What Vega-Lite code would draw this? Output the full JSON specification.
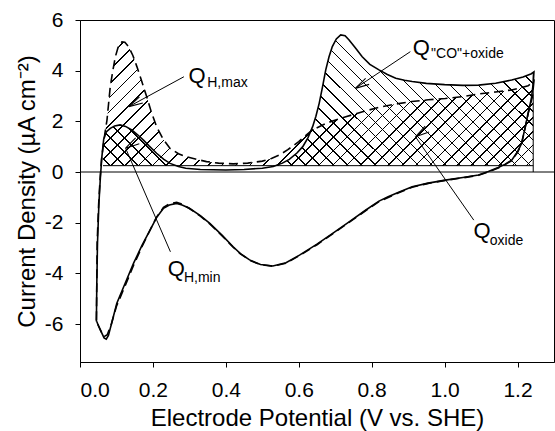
{
  "$schema": "https://vega.github.io/schema/vega-lite/v6.json",
  "width": 474,
  "height": 342,
  "autosize": "none",
  "padding": {"left": 80, "top": 20, "right": 1, "bottom": 69},
  "background": "white",
  "config": {
    "view": {"stroke": "black", "strokeWidth": 1},
    "font": "Liberation Sans",
    "axis": {"grid": false, "domainColor": "black", "tickColor": "black", "labelColor": "black", "titleColor": "black", "labelFont": "Liberation Sans", "titleFont": "Liberation Sans", "titleFontWeight": "normal", "tickSize": 5, "domainWidth": 1, "tickWidth": 1}
  },
  "datasets": {
    "one": [{"u": 1}],
    "curves": [
      {"c":"S","i":1,"x":0.045,"y":-5.9},{"c":"S","i":2,"x":0.046,"y":-4.5},{"c":"S","i":3,"x":0.048,"y":-2.8},{"c":"S","i":4,"x":0.052,"y":-1.2},{"c":"S","i":5,"x":0.056,"y":-0.2},{"c":"S","i":6,"x":0.06,"y":0.6},{"c":"S","i":7,"x":0.065,"y":1.3},{"c":"S","i":8,"x":0.072,"y":1.58},{"c":"S","i":9,"x":0.083,"y":1.72},{"c":"S","i":10,"x":0.095,"y":1.82},{"c":"S","i":11,"x":0.11,"y":1.86},{"c":"S","i":12,"x":0.125,"y":1.8},{"c":"S","i":13,"x":0.142,"y":1.66},{"c":"S","i":14,"x":0.158,"y":1.47},{"c":"S","i":15,"x":0.174,"y":1.26},{"c":"S","i":16,"x":0.19,"y":1.02},{"c":"S","i":17,"x":0.21,"y":0.74},{"c":"S","i":18,"x":0.23,"y":0.5},{"c":"S","i":19,"x":0.247,"y":0.34},{"c":"S","i":20,"x":0.27,"y":0.22},{"c":"S","i":21,"x":0.29,"y":0.15},{"c":"S","i":22,"x":0.33,"y":0.1},{"c":"S","i":23,"x":0.4,"y":0.08},{"c":"S","i":24,"x":0.45,"y":0.1},{"c":"S","i":25,"x":0.5,"y":0.15},{"c":"S","i":26,"x":0.53,"y":0.22},{"c":"S","i":27,"x":0.555,"y":0.35},{"c":"S","i":28,"x":0.574,"y":0.5},{"c":"S","i":29,"x":0.595,"y":0.75},{"c":"S","i":30,"x":0.611,"y":1.0},{"c":"S","i":31,"x":0.625,"y":1.35},{"c":"S","i":32,"x":0.638,"y":1.79},{"c":"S","i":33,"x":0.647,"y":2.2},{"c":"S","i":34,"x":0.656,"y":2.71},{"c":"S","i":35,"x":0.665,"y":3.35},{"c":"S","i":36,"x":0.674,"y":4.03},{"c":"S","i":37,"x":0.683,"y":4.55},{"c":"S","i":38,"x":0.692,"y":4.95},{"c":"S","i":39,"x":0.703,"y":5.25},{"c":"S","i":40,"x":0.715,"y":5.41},{"c":"S","i":41,"x":0.727,"y":5.38},{"c":"S","i":42,"x":0.738,"y":5.21},{"c":"S","i":43,"x":0.755,"y":4.9},{"c":"S","i":44,"x":0.774,"y":4.55},{"c":"S","i":45,"x":0.795,"y":4.25},{"c":"S","i":46,"x":0.82,"y":4.03},{"c":"S","i":47,"x":0.843,"y":3.85},{"c":"S","i":48,"x":0.866,"y":3.7},{"c":"S","i":49,"x":0.89,"y":3.62},{"c":"S","i":50,"x":0.911,"y":3.57},{"c":"S","i":51,"x":0.95,"y":3.5},{"c":"S","i":52,"x":1.0,"y":3.45},{"c":"S","i":53,"x":1.05,"y":3.42},{"c":"S","i":54,"x":1.093,"y":3.43},{"c":"S","i":55,"x":1.14,"y":3.5},{"c":"S","i":56,"x":1.184,"y":3.63},{"c":"S","i":57,"x":1.215,"y":3.75},{"c":"S","i":58,"x":1.238,"y":3.88},{"c":"S","i":59,"x":1.245,"y":3.95},
      {"c":"S","i":60,"x":1.243,"y":3.5},{"c":"S","i":61,"x":1.238,"y":2.9},{"c":"S","i":62,"x":1.229,"y":2.32},{"c":"S","i":63,"x":1.22,"y":1.7},{"c":"S","i":64,"x":1.211,"y":1.13},{"c":"S","i":65,"x":1.2,"y":0.8},{"c":"S","i":66,"x":1.184,"y":0.47},{"c":"S","i":67,"x":1.165,"y":0.3},{"c":"S","i":68,"x":1.147,"y":0.18},{"c":"S","i":69,"x":1.12,"y":0.02},{"c":"S","i":70,"x":1.093,"y":-0.12},{"c":"S","i":71,"x":1.05,"y":-0.22},{"c":"S","i":72,"x":1.002,"y":-0.32},{"c":"S","i":73,"x":0.955,"y":-0.44},{"c":"S","i":74,"x":0.911,"y":-0.58},{"c":"S","i":75,"x":0.874,"y":-0.8},{"c":"S","i":76,"x":0.845,"y":-0.98},{"c":"S","i":77,"x":0.82,"y":-1.15},{"c":"S","i":78,"x":0.784,"y":-1.5},{"c":"S","i":79,"x":0.74,"y":-1.95},{"c":"S","i":80,"x":0.693,"y":-2.42},{"c":"S","i":81,"x":0.65,"y":-2.85},{"c":"S","i":82,"x":0.602,"y":-3.28},{"c":"S","i":83,"x":0.565,"y":-3.58},{"c":"S","i":84,"x":0.529,"y":-3.71},{"c":"S","i":85,"x":0.495,"y":-3.65},{"c":"S","i":86,"x":0.465,"y":-3.47},{"c":"S","i":87,"x":0.44,"y":-3.22},{"c":"S","i":88,"x":0.42,"y":-2.95},{"c":"S","i":89,"x":0.39,"y":-2.5},{"c":"S","i":90,"x":0.356,"y":-2.03},{"c":"S","i":91,"x":0.33,"y":-1.72},{"c":"S","i":92,"x":0.3,"y":-1.43},{"c":"S","i":93,"x":0.28,"y":-1.3},{"c":"S","i":94,"x":0.265,"y":-1.24},{"c":"S","i":95,"x":0.245,"y":-1.3},{"c":"S","i":96,"x":0.229,"y":-1.43},{"c":"S","i":97,"x":0.21,"y":-1.8},{"c":"S","i":98,"x":0.192,"y":-2.29},{"c":"S","i":99,"x":0.17,"y":-2.9},{"c":"S","i":100,"x":0.147,"y":-3.6},{"c":"S","i":101,"x":0.125,"y":-4.35},{"c":"S","i":102,"x":0.101,"y":-5.18},{"c":"S","i":103,"x":0.088,"y":-5.9},{"c":"S","i":104,"x":0.078,"y":-6.45},{"c":"S","i":105,"x":0.072,"y":-6.6},{"c":"S","i":106,"x":0.066,"y":-6.55},{"c":"S","i":107,"x":0.058,"y":-6.3},{"c":"S","i":108,"x":0.05,"y":-6.05},{"c":"S","i":109,"x":0.046,"y":-5.9},
      {"c":"D","i":1,"x":0.045,"y":-5.85},{"c":"D","i":2,"x":0.046,"y":-4.5},{"c":"D","i":3,"x":0.047,"y":-2.8},{"c":"D","i":4,"x":0.051,"y":-1.3},{"c":"D","i":5,"x":0.055,"y":-0.3},{"c":"D","i":6,"x":0.059,"y":0.5},{"c":"D","i":7,"x":0.063,"y":0.95},{"c":"D","i":8,"x":0.068,"y":1.5},{"c":"D","i":9,"x":0.074,"y":2.05},{"c":"D","i":10,"x":0.083,"y":3.37},{"c":"D","i":11,"x":0.09,"y":4.0},{"c":"D","i":12,"x":0.097,"y":4.55},{"c":"D","i":13,"x":0.105,"y":4.95},{"c":"D","i":14,"x":0.115,"y":5.14},{"c":"D","i":15,"x":0.123,"y":5.12},{"c":"D","i":16,"x":0.133,"y":4.95},{"c":"D","i":17,"x":0.145,"y":4.6},{"c":"D","i":18,"x":0.156,"y":4.16},{"c":"D","i":19,"x":0.17,"y":3.55},{"c":"D","i":20,"x":0.183,"y":2.97},{"c":"D","i":21,"x":0.196,"y":2.35},{"c":"D","i":22,"x":0.21,"y":1.79},{"c":"D","i":23,"x":0.228,"y":1.3},{"c":"D","i":24,"x":0.247,"y":0.93},{"c":"D","i":25,"x":0.27,"y":0.72},{"c":"D","i":26,"x":0.292,"y":0.6},{"c":"D","i":27,"x":0.32,"y":0.5},{"c":"D","i":28,"x":0.347,"y":0.41},{"c":"D","i":29,"x":0.38,"y":0.35},{"c":"D","i":30,"x":0.42,"y":0.32},{"c":"D","i":31,"x":0.46,"y":0.35},{"c":"D","i":32,"x":0.5,"y":0.43},{"c":"D","i":33,"x":0.525,"y":0.53},{"c":"D","i":34,"x":0.547,"y":0.67},{"c":"D","i":35,"x":0.57,"y":0.88},{"c":"D","i":36,"x":0.6,"y":1.2},{"c":"D","i":37,"x":0.637,"y":1.66},{"c":"D","i":38,"x":0.68,"y":1.95},{"c":"D","i":39,"x":0.729,"y":2.18},{"c":"D","i":40,"x":0.775,"y":2.38},{"c":"D","i":41,"x":0.82,"y":2.55},{"c":"D","i":42,"x":0.865,"y":2.68},{"c":"D","i":43,"x":0.91,"y":2.78},{"c":"D","i":44,"x":0.955,"y":2.85},{"c":"D","i":45,"x":1.002,"y":2.9},{"c":"D","i":46,"x":1.05,"y":2.98},{"c":"D","i":47,"x":1.093,"y":3.08},{"c":"D","i":48,"x":1.14,"y":3.16},{"c":"D","i":49,"x":1.184,"y":3.24},{"c":"D","i":50,"x":1.229,"y":3.4},{"c":"D","i":51,"x":1.245,"y":3.6},
      {"c":"D","i":52,"x":1.241,"y":3.0},{"c":"D","i":53,"x":1.229,"y":2.3},{"c":"D","i":54,"x":1.22,"y":1.68},{"c":"D","i":55,"x":1.211,"y":1.12},{"c":"D","i":56,"x":1.2,"y":0.78},{"c":"D","i":57,"x":1.184,"y":0.45},{"c":"D","i":58,"x":1.165,"y":0.28},{"c":"D","i":59,"x":1.147,"y":0.16},{"c":"D","i":60,"x":1.12,"y":0.0},{"c":"D","i":61,"x":1.093,"y":-0.13},{"c":"D","i":62,"x":1.05,"y":-0.23},{"c":"D","i":63,"x":1.002,"y":-0.33},{"c":"D","i":64,"x":0.955,"y":-0.45},{"c":"D","i":65,"x":0.911,"y":-0.6},{"c":"D","i":66,"x":0.874,"y":-0.82},{"c":"D","i":67,"x":0.82,"y":-1.17},{"c":"D","i":68,"x":0.784,"y":-1.52},{"c":"D","i":69,"x":0.74,"y":-1.97},{"c":"D","i":70,"x":0.693,"y":-2.44},{"c":"D","i":71,"x":0.65,"y":-2.87},{"c":"D","i":72,"x":0.602,"y":-3.3},{"c":"D","i":73,"x":0.565,"y":-3.6},{"c":"D","i":74,"x":0.529,"y":-3.72},{"c":"D","i":75,"x":0.495,"y":-3.66},{"c":"D","i":76,"x":0.465,"y":-3.48},{"c":"D","i":77,"x":0.44,"y":-3.23},{"c":"D","i":78,"x":0.42,"y":-2.97},{"c":"D","i":79,"x":0.39,"y":-2.52},{"c":"D","i":80,"x":0.356,"y":-2.05},{"c":"D","i":81,"x":0.33,"y":-1.74},{"c":"D","i":82,"x":0.3,"y":-1.44},{"c":"D","i":83,"x":0.28,"y":-1.27},{"c":"D","i":84,"x":0.265,"y":-1.2},{"c":"D","i":85,"x":0.245,"y":-1.26},{"c":"D","i":86,"x":0.229,"y":-1.4},{"c":"D","i":87,"x":0.21,"y":-1.78},{"c":"D","i":88,"x":0.192,"y":-2.3},{"c":"D","i":89,"x":0.17,"y":-2.95},{"c":"D","i":90,"x":0.147,"y":-3.68},{"c":"D","i":91,"x":0.125,"y":-4.45},{"c":"D","i":92,"x":0.1,"y":-5.3},{"c":"D","i":93,"x":0.086,"y":-6.0},{"c":"D","i":94,"x":0.075,"y":-6.42},{"c":"D","i":95,"x":0.066,"y":-6.5},{"c":"D","i":96,"x":0.058,"y":-6.3},{"c":"D","i":97,"x":0.05,"y":-6.05},{"c":"D","i":98,"x":0.046,"y":-5.85}
    ],
    "hatchS": [
      {"x":0.063,"y":1.0},{"x":0.065,"y":1.3},{"x":0.072,"y":1.58},{"x":0.083,"y":1.72},{"x":0.095,"y":1.82},{"x":0.11,"y":1.86},{"x":0.125,"y":1.8},{"x":0.142,"y":1.66},{"x":0.158,"y":1.47},{"x":0.174,"y":1.26},{"x":0.19,"y":1.02},{"x":0.21,"y":0.74},{"x":0.23,"y":0.5},{"x":0.247,"y":0.34},{"x":0.27,"y":0.25},{"x":0.53,"y":0.25},{"x":0.555,"y":0.35},{"x":0.574,"y":0.5},{"x":0.595,"y":0.75},{"x":0.611,"y":1.0},{"x":0.625,"y":1.35},{"x":0.638,"y":1.79},{"x":0.647,"y":2.2},{"x":0.656,"y":2.71},{"x":0.665,"y":3.35},{"x":0.674,"y":4.03},{"x":0.683,"y":4.55},{"x":0.692,"y":4.95},{"x":0.703,"y":5.25},{"x":0.715,"y":5.41},{"x":0.727,"y":5.38},{"x":0.738,"y":5.21},{"x":0.755,"y":4.9},{"x":0.774,"y":4.55},{"x":0.795,"y":4.25},{"x":0.82,"y":4.03},{"x":0.843,"y":3.85},{"x":0.866,"y":3.7},{"x":0.89,"y":3.62},{"x":0.911,"y":3.57},{"x":0.95,"y":3.5},{"x":1.0,"y":3.45},{"x":1.05,"y":3.42},{"x":1.093,"y":3.43},{"x":1.14,"y":3.5},{"x":1.184,"y":3.63},{"x":1.215,"y":3.75},{"x":1.238,"y":3.88},{"x":1.243,"y":3.9}
    ],
    "hatchD": [
      {"x":0.063,"y":0.95},{"x":0.068,"y":1.5},{"x":0.074,"y":2.05},{"x":0.083,"y":3.37},{"x":0.09,"y":4.0},{"x":0.097,"y":4.55},{"x":0.105,"y":4.95},{"x":0.115,"y":5.14},{"x":0.123,"y":5.12},{"x":0.133,"y":4.95},{"x":0.145,"y":4.6},{"x":0.156,"y":4.16},{"x":0.17,"y":3.55},{"x":0.183,"y":2.97},{"x":0.196,"y":2.35},{"x":0.21,"y":1.79},{"x":0.228,"y":1.3},{"x":0.247,"y":0.93},{"x":0.27,"y":0.72},{"x":0.292,"y":0.6},{"x":0.32,"y":0.5},{"x":0.347,"y":0.41},{"x":0.38,"y":0.35},{"x":0.42,"y":0.32},{"x":0.46,"y":0.35},{"x":0.5,"y":0.43},{"x":0.525,"y":0.53},{"x":0.547,"y":0.67},{"x":0.57,"y":0.88},{"x":0.6,"y":1.2},{"x":0.637,"y":1.66},{"x":0.68,"y":1.95},{"x":0.729,"y":2.18},{"x":0.775,"y":2.38},{"x":0.82,"y":2.55},{"x":0.865,"y":2.68},{"x":0.91,"y":2.78},{"x":0.955,"y":2.85},{"x":1.002,"y":2.9},{"x":1.05,"y":2.98},{"x":1.093,"y":3.08},{"x":1.14,"y":3.16},{"x":1.184,"y":3.24},{"x":1.229,"y":3.4},{"x":1.243,"y":3.55}
    ],
    "arrows": [
      {"k":"Hmax","x":0.285,"y":3.76,"x2":0.134,"y2":2.58},
      {"k":"CO","x":0.906,"y":4.75,"x2":0.755,"y2":3.3},
      {"k":"Hmin","x":0.248,"y":-3.15,"x2":0.125,"y2":0.94},
      {"k":"ox","x":1.08,"y":-1.9,"x2":0.92,"y2":1.39}
    ],
    "qlabels": [
      {"t":"Q","x":0.321,"y":3.5},
      {"t":"Q","x":0.936,"y":4.62},
      {"t":"Q","x":0.264,"y":-4.1},
      {"t":"Q","x":1.103,"y":-2.62}
    ],
    "sublabels": [
      {"t":"H,max","x":0.349,"y":3.37},
      {"t":"\"CO\"+oxide","x":0.963,"y":4.49},
      {"t":"H,min","x":0.285,"y":-4.33},
      {"t":"oxide","x":1.124,"y":-2.88}
    ]
  },
  "layer": [
    {
      "data": {"name": "hatchS"},
      "mark": {"type": "area", "strokeWidth": 0, "fill": {"gradient": "linear", "x1": 0, "y1": 1, "x2": 1.1937, "y2": 0.637, "stops": [
        {"offset":0.011,"color":"transparent"},{"offset":0.011,"color":"#000"},{"offset":0.014,"color":"#000"},{"offset":0.014,"color":"transparent"},
        {"offset":0.036,"color":"transparent"},{"offset":0.036,"color":"#000"},{"offset":0.039,"color":"#000"},{"offset":0.039,"color":"transparent"},
        {"offset":0.061,"color":"transparent"},{"offset":0.061,"color":"#000"},{"offset":0.064,"color":"#000"},{"offset":0.064,"color":"transparent"},
        {"offset":0.086,"color":"transparent"},{"offset":0.086,"color":"#000"},{"offset":0.089,"color":"#000"},{"offset":0.089,"color":"transparent"},
        {"offset":0.111,"color":"transparent"},{"offset":0.111,"color":"#000"},{"offset":0.114,"color":"#000"},{"offset":0.114,"color":"transparent"},
        {"offset":0.136,"color":"transparent"},{"offset":0.136,"color":"#000"},{"offset":0.139,"color":"#000"},{"offset":0.139,"color":"transparent"},
        {"offset":0.161,"color":"transparent"},{"offset":0.161,"color":"#000"},{"offset":0.164,"color":"#000"},{"offset":0.164,"color":"transparent"},
        {"offset":0.186,"color":"transparent"},{"offset":0.186,"color":"#000"},{"offset":0.189,"color":"#000"},{"offset":0.189,"color":"transparent"},
        {"offset":0.211,"color":"transparent"},{"offset":0.211,"color":"#000"},{"offset":0.214,"color":"#000"},{"offset":0.214,"color":"transparent"},
        {"offset":0.236,"color":"transparent"},{"offset":0.236,"color":"#000"},{"offset":0.239,"color":"#000"},{"offset":0.239,"color":"transparent"},
        {"offset":0.261,"color":"transparent"},{"offset":0.261,"color":"#000"},{"offset":0.264,"color":"#000"},{"offset":0.264,"color":"transparent"},
        {"offset":0.286,"color":"transparent"},{"offset":0.286,"color":"#000"},{"offset":0.289,"color":"#000"},{"offset":0.289,"color":"transparent"},
        {"offset":0.311,"color":"transparent"},{"offset":0.311,"color":"#000"},{"offset":0.314,"color":"#000"},{"offset":0.314,"color":"transparent"},
        {"offset":0.336,"color":"transparent"},{"offset":0.336,"color":"#000"},{"offset":0.339,"color":"#000"},{"offset":0.339,"color":"transparent"},
        {"offset":0.361,"color":"transparent"},{"offset":0.361,"color":"#000"},{"offset":0.364,"color":"#000"},{"offset":0.364,"color":"transparent"},
        {"offset":0.386,"color":"transparent"},{"offset":0.386,"color":"#000"},{"offset":0.389,"color":"#000"},{"offset":0.389,"color":"transparent"},
        {"offset":0.411,"color":"transparent"},{"offset":0.411,"color":"#000"},{"offset":0.414,"color":"#000"},{"offset":0.414,"color":"transparent"},
        {"offset":0.436,"color":"transparent"},{"offset":0.436,"color":"#000"},{"offset":0.439,"color":"#000"},{"offset":0.439,"color":"transparent"},
        {"offset":0.461,"color":"transparent"},{"offset":0.461,"color":"#000"},{"offset":0.464,"color":"#000"},{"offset":0.464,"color":"transparent"},
        {"offset":0.486,"color":"transparent"},{"offset":0.486,"color":"#000"},{"offset":0.489,"color":"#000"},{"offset":0.489,"color":"transparent"},
        {"offset":0.511,"color":"transparent"},{"offset":0.511,"color":"#000"},{"offset":0.514,"color":"#000"},{"offset":0.514,"color":"transparent"},
        {"offset":0.536,"color":"transparent"},{"offset":0.536,"color":"#000"},{"offset":0.539,"color":"#000"},{"offset":0.539,"color":"transparent"},
        {"offset":0.561,"color":"transparent"},{"offset":0.561,"color":"#000"},{"offset":0.564,"color":"#000"},{"offset":0.564,"color":"transparent"},
        {"offset":0.586,"color":"transparent"},{"offset":0.586,"color":"#000"},{"offset":0.589,"color":"#000"},{"offset":0.589,"color":"transparent"},
        {"offset":0.611,"color":"transparent"},{"offset":0.611,"color":"#000"},{"offset":0.614,"color":"#000"},{"offset":0.614,"color":"transparent"},
        {"offset":0.636,"color":"transparent"},{"offset":0.636,"color":"#000"},{"offset":0.639,"color":"#000"},{"offset":0.639,"color":"transparent"},
        {"offset":0.661,"color":"transparent"},{"offset":0.661,"color":"#000"},{"offset":0.664,"color":"#000"},{"offset":0.664,"color":"transparent"},
        {"offset":0.686,"color":"transparent"},{"offset":0.686,"color":"#000"},{"offset":0.689,"color":"#000"},{"offset":0.689,"color":"transparent"},
        {"offset":0.711,"color":"transparent"},{"offset":0.711,"color":"#000"},{"offset":0.714,"color":"#000"},{"offset":0.714,"color":"transparent"},
        {"offset":0.736,"color":"transparent"},{"offset":0.736,"color":"#000"},{"offset":0.739,"color":"#000"},{"offset":0.739,"color":"transparent"},
        {"offset":0.761,"color":"transparent"},{"offset":0.761,"color":"#000"},{"offset":0.764,"color":"#000"},{"offset":0.764,"color":"transparent"},
        {"offset":0.786,"color":"transparent"},{"offset":0.786,"color":"#000"},{"offset":0.789,"color":"#000"},{"offset":0.789,"color":"transparent"},
        {"offset":0.811,"color":"transparent"},{"offset":0.811,"color":"#000"},{"offset":0.814,"color":"#000"},{"offset":0.814,"color":"transparent"},
        {"offset":0.836,"color":"transparent"},{"offset":0.836,"color":"#000"},{"offset":0.839,"color":"#000"},{"offset":0.839,"color":"transparent"},
        {"offset":0.861,"color":"transparent"},{"offset":0.861,"color":"#000"},{"offset":0.864,"color":"#000"},{"offset":0.864,"color":"transparent"},
        {"offset":0.886,"color":"transparent"},{"offset":0.886,"color":"#000"},{"offset":0.889,"color":"#000"},{"offset":0.889,"color":"transparent"},
        {"offset":0.911,"color":"transparent"},{"offset":0.911,"color":"#000"},{"offset":0.914,"color":"#000"},{"offset":0.914,"color":"transparent"},
        {"offset":0.936,"color":"transparent"},{"offset":0.936,"color":"#000"},{"offset":0.939,"color":"#000"},{"offset":0.939,"color":"transparent"},
        {"offset":0.961,"color":"transparent"},{"offset":0.961,"color":"#000"},{"offset":0.964,"color":"#000"},{"offset":0.964,"color":"transparent"},
        {"offset":0.986,"color":"transparent"},{"offset":0.986,"color":"#000"},{"offset":0.989,"color":"#000"},{"offset":0.989,"color":"transparent"}
      ]}},
      "encoding": {
        "x": {"field": "x", "type": "quantitative", "scale": {"domain": [0, 1.3], "nice": false, "zero": false},
          "axis": {"title": "Electrode Potential (V vs. SHE)", "values": [0, 0.2, 0.4, 0.6, 0.8, 1.0, 1.2], "format": ".1f", "labelFontSize": 21, "titleFontSize": 24, "labelPadding": 12, "titlePadding": 6}},
        "y": {"field": "y", "type": "quantitative", "scale": {"domain": [-7.5, 6], "nice": false, "zero": false},
          "axis": {"title": "Current Density (µA cm⁻²)", "values": [-6, -4, -2, 0, 2, 4, 6], "labelExpr": "'' + datum.value", "labelFontSize": 21, "titleFontSize": 24, "labelPadding": 12, "titlePadding": 5}},
        "y2": {"datum": 0.25}
      }
    },
    {
      "data": {"name": "hatchD"},
      "mark": {"type": "area", "strokeWidth": 0, "fill": {"gradient": "linear", "x1": 0, "y1": 0, "x2": 1.1893, "y2": 0.3425, "stops": [
        {"offset":0.011,"color":"transparent"},{"offset":0.011,"color":"#000"},{"offset":0.014,"color":"#000"},{"offset":0.014,"color":"transparent"},
        {"offset":0.036,"color":"transparent"},{"offset":0.036,"color":"#000"},{"offset":0.039,"color":"#000"},{"offset":0.039,"color":"transparent"},
        {"offset":0.061,"color":"transparent"},{"offset":0.061,"color":"#000"},{"offset":0.064,"color":"#000"},{"offset":0.064,"color":"transparent"},
        {"offset":0.086,"color":"transparent"},{"offset":0.086,"color":"#000"},{"offset":0.089,"color":"#000"},{"offset":0.089,"color":"transparent"},
        {"offset":0.111,"color":"transparent"},{"offset":0.111,"color":"#000"},{"offset":0.114,"color":"#000"},{"offset":0.114,"color":"transparent"},
        {"offset":0.136,"color":"transparent"},{"offset":0.136,"color":"#000"},{"offset":0.139,"color":"#000"},{"offset":0.139,"color":"transparent"},
        {"offset":0.161,"color":"transparent"},{"offset":0.161,"color":"#000"},{"offset":0.164,"color":"#000"},{"offset":0.164,"color":"transparent"},
        {"offset":0.186,"color":"transparent"},{"offset":0.186,"color":"#000"},{"offset":0.189,"color":"#000"},{"offset":0.189,"color":"transparent"},
        {"offset":0.211,"color":"transparent"},{"offset":0.211,"color":"#000"},{"offset":0.214,"color":"#000"},{"offset":0.214,"color":"transparent"},
        {"offset":0.236,"color":"transparent"},{"offset":0.236,"color":"#000"},{"offset":0.239,"color":"#000"},{"offset":0.239,"color":"transparent"},
        {"offset":0.261,"color":"transparent"},{"offset":0.261,"color":"#000"},{"offset":0.264,"color":"#000"},{"offset":0.264,"color":"transparent"},
        {"offset":0.286,"color":"transparent"},{"offset":0.286,"color":"#000"},{"offset":0.289,"color":"#000"},{"offset":0.289,"color":"transparent"},
        {"offset":0.311,"color":"transparent"},{"offset":0.311,"color":"#000"},{"offset":0.314,"color":"#000"},{"offset":0.314,"color":"transparent"},
        {"offset":0.336,"color":"transparent"},{"offset":0.336,"color":"#000"},{"offset":0.339,"color":"#000"},{"offset":0.339,"color":"transparent"},
        {"offset":0.361,"color":"transparent"},{"offset":0.361,"color":"#000"},{"offset":0.364,"color":"#000"},{"offset":0.364,"color":"transparent"},
        {"offset":0.386,"color":"transparent"},{"offset":0.386,"color":"#000"},{"offset":0.389,"color":"#000"},{"offset":0.389,"color":"transparent"},
        {"offset":0.411,"color":"transparent"},{"offset":0.411,"color":"#000"},{"offset":0.414,"color":"#000"},{"offset":0.414,"color":"transparent"},
        {"offset":0.436,"color":"transparent"},{"offset":0.436,"color":"#000"},{"offset":0.439,"color":"#000"},{"offset":0.439,"color":"transparent"},
        {"offset":0.461,"color":"transparent"},{"offset":0.461,"color":"#000"},{"offset":0.464,"color":"#000"},{"offset":0.464,"color":"transparent"},
        {"offset":0.486,"color":"transparent"},{"offset":0.486,"color":"#000"},{"offset":0.489,"color":"#000"},{"offset":0.489,"color":"transparent"},
        {"offset":0.511,"color":"transparent"},{"offset":0.511,"color":"#000"},{"offset":0.514,"color":"#000"},{"offset":0.514,"color":"transparent"},
        {"offset":0.536,"color":"transparent"},{"offset":0.536,"color":"#000"},{"offset":0.539,"color":"#000"},{"offset":0.539,"color":"transparent"},
        {"offset":0.561,"color":"transparent"},{"offset":0.561,"color":"#000"},{"offset":0.564,"color":"#000"},{"offset":0.564,"color":"transparent"},
        {"offset":0.586,"color":"transparent"},{"offset":0.586,"color":"#000"},{"offset":0.589,"color":"#000"},{"offset":0.589,"color":"transparent"},
        {"offset":0.611,"color":"transparent"},{"offset":0.611,"color":"#000"},{"offset":0.614,"color":"#000"},{"offset":0.614,"color":"transparent"},
        {"offset":0.636,"color":"transparent"},{"offset":0.636,"color":"#000"},{"offset":0.639,"color":"#000"},{"offset":0.639,"color":"transparent"},
        {"offset":0.661,"color":"transparent"},{"offset":0.661,"color":"#000"},{"offset":0.664,"color":"#000"},{"offset":0.664,"color":"transparent"},
        {"offset":0.686,"color":"transparent"},{"offset":0.686,"color":"#000"},{"offset":0.689,"color":"#000"},{"offset":0.689,"color":"transparent"},
        {"offset":0.711,"color":"transparent"},{"offset":0.711,"color":"#000"},{"offset":0.714,"color":"#000"},{"offset":0.714,"color":"transparent"},
        {"offset":0.736,"color":"transparent"},{"offset":0.736,"color":"#000"},{"offset":0.739,"color":"#000"},{"offset":0.739,"color":"transparent"},
        {"offset":0.761,"color":"transparent"},{"offset":0.761,"color":"#000"},{"offset":0.764,"color":"#000"},{"offset":0.764,"color":"transparent"},
        {"offset":0.786,"color":"transparent"},{"offset":0.786,"color":"#000"},{"offset":0.789,"color":"#000"},{"offset":0.789,"color":"transparent"},
        {"offset":0.811,"color":"transparent"},{"offset":0.811,"color":"#000"},{"offset":0.814,"color":"#000"},{"offset":0.814,"color":"transparent"},
        {"offset":0.836,"color":"transparent"},{"offset":0.836,"color":"#000"},{"offset":0.839,"color":"#000"},{"offset":0.839,"color":"transparent"},
        {"offset":0.861,"color":"transparent"},{"offset":0.861,"color":"#000"},{"offset":0.864,"color":"#000"},{"offset":0.864,"color":"transparent"},
        {"offset":0.886,"color":"transparent"},{"offset":0.886,"color":"#000"},{"offset":0.889,"color":"#000"},{"offset":0.889,"color":"transparent"},
        {"offset":0.911,"color":"transparent"},{"offset":0.911,"color":"#000"},{"offset":0.914,"color":"#000"},{"offset":0.914,"color":"transparent"},
        {"offset":0.936,"color":"transparent"},{"offset":0.936,"color":"#000"},{"offset":0.939,"color":"#000"},{"offset":0.939,"color":"transparent"},
        {"offset":0.961,"color":"transparent"},{"offset":0.961,"color":"#000"},{"offset":0.964,"color":"#000"},{"offset":0.964,"color":"transparent"},
        {"offset":0.986,"color":"transparent"},{"offset":0.986,"color":"#000"},{"offset":0.989,"color":"#000"},{"offset":0.989,"color":"transparent"}
      ]}},
      "encoding": {
        "x": {"field": "x", "type": "quantitative", "scale": {"domain": [0, 1.3], "nice": false, "zero": false}},
        "y": {"field": "y", "type": "quantitative", "scale": {"domain": [-7.5, 6], "nice": false, "zero": false}},
        "y2": {"datum": 0.25}
      }
    },
    {
      "data": {"name": "one"},
      "mark": {"type": "rule", "color": "black", "strokeWidth": 1},
      "encoding": {"y": {"datum": 0, "type": "quantitative", "scale": {"domain": [-7.5, 6], "nice": false, "zero": false}}}
    },
    {
      "data": {"name": "one"},
      "mark": {"type": "rule", "color": "black", "strokeWidth": 1},
      "encoding": {
        "x": {"datum": 0.063, "type": "quantitative", "scale": {"domain": [0, 1.3], "nice": false, "zero": false}},
        "x2": {"datum": 1.243},
        "y": {"datum": 0.25, "type": "quantitative", "scale": {"domain": [-7.5, 6], "nice": false, "zero": false}}
      }
    },
    {
      "data": {"name": "one"},
      "mark": {"type": "rule", "color": "black", "strokeWidth": 1},
      "encoding": {
        "x": {"datum": 1.243, "type": "quantitative", "scale": {"domain": [0, 1.3], "nice": false, "zero": false}},
        "y": {"datum": 0, "type": "quantitative", "scale": {"domain": [-7.5, 6], "nice": false, "zero": false}},
        "y2": {"datum": 3.9}
      }
    },
    {
      "data": {"name": "curves"},
      "transform": [{"filter": "datum.c === 'S'"}],
      "mark": {"type": "line", "color": "black", "strokeWidth": 1.6},
      "encoding": {
        "x": {"field": "x", "type": "quantitative", "scale": {"domain": [0, 1.3], "nice": false, "zero": false}},
        "y": {"field": "y", "type": "quantitative", "scale": {"domain": [-7.5, 6], "nice": false, "zero": false}},
        "order": {"field": "i", "type": "quantitative"}
      }
    },
    {
      "data": {"name": "curves"},
      "transform": [{"filter": "datum.c === 'D'"}],
      "mark": {"type": "line", "color": "black", "strokeWidth": 1.6, "strokeDash": [9, 5]},
      "encoding": {
        "x": {"field": "x", "type": "quantitative", "scale": {"domain": [0, 1.3], "nice": false, "zero": false}},
        "y": {"field": "y", "type": "quantitative", "scale": {"domain": [-7.5, 6], "nice": false, "zero": false}},
        "order": {"field": "i", "type": "quantitative"}
      }
    },
    {
      "data": {"name": "arrows"},
      "mark": {"type": "rule", "color": "black", "strokeWidth": 1},
      "encoding": {
        "x": {"field": "x", "type": "quantitative", "scale": {"domain": [0, 1.3], "nice": false, "zero": false}},
        "y": {"field": "y", "type": "quantitative", "scale": {"domain": [-7.5, 6], "nice": false, "zero": false}},
        "x2": {"field": "x2"},
        "y2": {"field": "y2"}
      }
    },
    {
      "data": {"name": "arrows"},
      "mark": {"type": "point", "shape": "M0,0L-1,-0.25M0,0L-1,0.25", "filled": false, "stroke": "black", "strokeWidth": 1.1, "size": 784, "opacity": 1},
      "encoding": {
        "x": {"field": "x2", "type": "quantitative", "scale": {"domain": [0, 1.3], "nice": false, "zero": false}},
        "y": {"field": "y2", "type": "quantitative", "scale": {"domain": [-7.5, 6], "nice": false, "zero": false}},
        "angle": {"field": "k", "type": "nominal", "scale": {"domain": ["Hmax", "CO", "Hmin", "ox"], "range": [151.4, 146.4, 246.5, 235]}, "legend": null}
      }
    },
    {
      "data": {"name": "qlabels"},
      "mark": {"type": "text", "font": "Liberation Sans", "fontSize": 22, "align": "center", "baseline": "alphabetic", "color": "black"},
      "encoding": {
        "x": {"field": "x", "type": "quantitative", "scale": {"domain": [0, 1.3], "nice": false, "zero": false}},
        "y": {"field": "y", "type": "quantitative", "scale": {"domain": [-7.5, 6], "nice": false, "zero": false}},
        "text": {"field": "t"}
      }
    },
    {
      "data": {"name": "sublabels"},
      "mark": {"type": "text", "font": "Liberation Sans", "fontSize": 14, "align": "left", "baseline": "alphabetic", "color": "black"},
      "encoding": {
        "x": {"field": "x", "type": "quantitative", "scale": {"domain": [0, 1.3], "nice": false, "zero": false}},
        "y": {"field": "y", "type": "quantitative", "scale": {"domain": [-7.5, 6], "nice": false, "zero": false}},
        "text": {"field": "t"}
      }
    }
  ]
}
